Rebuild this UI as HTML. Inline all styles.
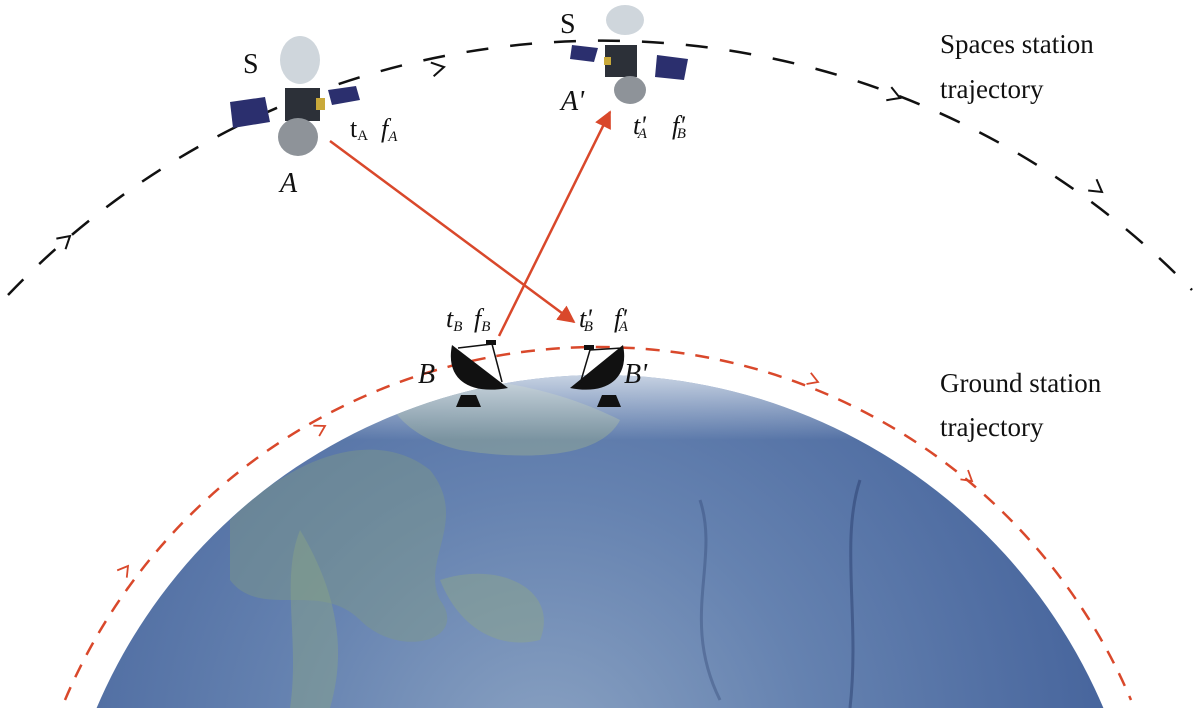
<!DOCTYPE html>
<html><head><meta charset="utf-8"><style>
html,body{margin:0;padding:0;background:#fff;width:1200px;height:708px;overflow:hidden;}
svg{display:block;}
text{font-family:"Liberation Serif",serif;fill:#111;}
</style></head><body>
<svg width="1200" height="708" viewBox="0 0 1200 708" xmlns="http://www.w3.org/2000/svg">
<defs>
<radialGradient id="earth" cx="0.45" cy="0.35" r="0.7">
<stop offset="0" stop-color="#8aa2c2"/>
<stop offset="0.35" stop-color="#6582b0"/>
<stop offset="0.75" stop-color="#46649c"/>
<stop offset="1" stop-color="#2f4c88"/>
</radialGradient>
<linearGradient id="haze" x1="0" y1="0" x2="0" y2="1">
<stop offset="0" stop-color="#e8eef4" stop-opacity="0.95"/>
<stop offset="1" stop-color="#e8eef4" stop-opacity="0"/>
</linearGradient>
<clipPath id="ec"><circle cx="600" cy="922" r="547"/></clipPath>
<marker id="ra" viewBox="0 0 10 10" refX="9" refY="5" markerWidth="7" markerHeight="7" orient="auto"><path d="M0,0 L10,5 L0,10 z" fill="#d9482b"/></marker>
</defs>
<circle cx="600" cy="922" r="547" fill="url(#earth)"/>
<g clip-path="url(#ec)">
<path d="M230,520 C300,450 380,430 430,470 C470,520 420,560 440,600 C470,640 400,660 360,620 C320,580 260,620 230,580 Z" fill="#7f9a86" opacity="0.45"/>
<path d="M300,530 C330,580 350,640 330,708 L290,708 C300,640 280,580 300,530Z" fill="#8aa386" opacity="0.45"/>
<path d="M440,580 C500,560 560,590 540,640 C500,650 460,630 440,580Z" fill="#8da686" opacity="0.45"/>
<path d="M380,380 C480,370 560,390 620,420 C600,460 520,460 460,450 C420,440 390,420 380,380Z" fill="#9bb093" opacity="0.45"/>
<rect x="0" y="360" width="1200" height="80" fill="url(#haze)"/>
<path d="M860,480 C840,540 860,620 850,708" stroke="#2a3e6e" stroke-width="3" fill="none" opacity="0.5"/>
<path d="M700,500 C720,560 680,620 720,700" stroke="#2a3e6e" stroke-width="3" fill="none" opacity="0.35"/>
</g>
<path d="M8,295 A821.7,821.7 0 0 1 1192,290" fill="none" stroke="#111" stroke-width="2.5" stroke-dasharray="22,22"/>
<g stroke="#111" stroke-width="2" fill="none">
<path d="M-12,-7 L0,0 L-12,7" transform="translate(444,67) rotate(-11.6)"/>
<path d="M-12,-7 L0,0 L-12,7" transform="translate(900,98) rotate(21)"/>
<path d="M-12,-7 L0,0 L-12,7" transform="translate(1102,192) rotate(36.6)"/>
<path d="M-12,-7 L0,0 L-12,7" transform="translate(70,236) rotate(-41)"/>
</g>
<path d="M65,700 A578.9,578.9 0 0 1 1131,700" fill="none" stroke="#d9482b" stroke-width="2.5" stroke-dasharray="14,11"/>
<g stroke="#d9482b" stroke-width="1.8" fill="none">
<path d="M-10,-6 L0,0 L-10,6" transform="translate(325,426) rotate(-29)"/>
<path d="M-10,-6 L0,0 L-10,6" transform="translate(818,382) rotate(21)"/>
<path d="M-10,-6 L0,0 L-10,6" transform="translate(972,481) rotate(39)"/>
<path d="M-10,-6 L0,0 L-10,6" transform="translate(128,566) rotate(-53)"/>
</g>
<line x1="330" y1="141" x2="574" y2="322" stroke="#d9482b" stroke-width="2.5" marker-end="url(#ra)"/>
<line x1="499" y1="336" x2="610" y2="112" stroke="#d9482b" stroke-width="2.5" marker-end="url(#ra)"/>
<g>
<ellipse cx="300" cy="60" rx="20" ry="24" fill="#cfd6dc"/>
<polygon points="230,102 265,97 270,122 233,128" fill="#2b2f6e"/>
<polygon points="328,90 356,86 360,100 332,105" fill="#2b2f6e"/>
<rect x="285" y="88" width="35" height="33" fill="#2c3038"/>
<rect x="316" y="98" width="9" height="12" fill="#c9a93a"/>
<ellipse cx="298" cy="137" rx="20" ry="19" fill="#8e9399"/>
</g>
<g>
<ellipse cx="625" cy="20" rx="19" ry="15" fill="#cfd6dc"/>
<polygon points="572,45 598,48 594,62 570,59" fill="#2b2f6e"/>
<polygon points="657,55 688,59 684,80 655,77" fill="#2b2f6e"/>
<rect x="605" y="45" width="32" height="32" fill="#2c3038"/>
<rect x="604" y="57" width="7" height="8" fill="#c9a93a"/>
<ellipse cx="630" cy="90" rx="16" ry="14" fill="#8e9399"/>
</g>
<g>
<path d="M452,345 C445,380 470,395 508,388 Z" fill="#111"/>
<line x1="458" y1="348" x2="492" y2="344" stroke="#111" stroke-width="1.5"/>
<line x1="492" y1="344" x2="502" y2="382" stroke="#111" stroke-width="1.5"/>
<rect x="486" y="340" width="10" height="5" fill="#111"/>
<polygon points="461,395 476,395 481,407 456,407" fill="#111"/>
</g>
<g>
<path d="M623,345 C630,380 605,395 570,388 Z" fill="#111"/>
<line x1="590" y1="350" x2="622" y2="348" stroke="#111" stroke-width="1.5"/>
<line x1="590" y1="350" x2="580" y2="384" stroke="#111" stroke-width="1.5"/>
<rect x="584" y="345" width="10" height="5" fill="#111"/>
<polygon points="602,395 616,395 621,407 597,407" fill="#111"/>
</g>
<text x="243" y="73" font-size="28">S</text>
<text x="560" y="33" font-size="28">S</text>
<text x="280" y="192" font-size="28" font-style="italic">A</text>
<text x="561" y="110" font-size="28" font-style="italic">A'</text>
<text x="350" y="137" font-size="26">t<tspan font-size="15" dy="3">A</tspan></text>
<text x="381" y="137" font-size="26" font-style="italic">f<tspan font-size="15" dy="4">A</tspan></text>
<text x="633" y="134" font-size="26" font-style="italic">t'<tspan font-size="15" dy="4" dx="-8">A</tspan></text>
<text x="672" y="134" font-size="26" font-style="italic">f'<tspan font-size="15" dy="4" dx="-8">B</tspan></text>
<text x="446" y="327" font-size="26" font-style="italic">t<tspan font-size="15" dy="4">B</tspan></text>
<text x="474" y="327" font-size="26" font-style="italic">f<tspan font-size="15" dy="4">B</tspan></text>
<text x="579" y="327" font-size="26" font-style="italic">t'<tspan font-size="15" dy="4" dx="-8">B</tspan></text>
<text x="614" y="327" font-size="26" font-style="italic">f'<tspan font-size="15" dy="4" dx="-8">A</tspan></text>
<text x="418" y="383" font-size="28" font-style="italic">B</text>
<text x="624" y="383" font-size="28" font-style="italic">B'</text>
<text x="940" y="53" font-size="27">Spaces station</text>
<text x="940" y="98" font-size="27">trajectory</text>
<text x="940" y="392" font-size="27">Ground station</text>
<text x="940" y="436" font-size="27">trajectory</text>
</svg>
</body></html>
